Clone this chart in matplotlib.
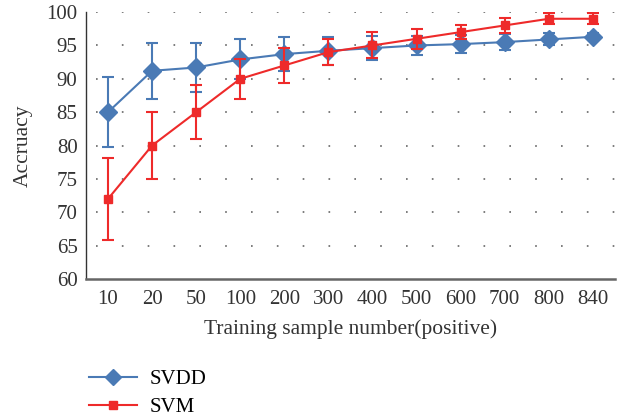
import matplotlib
matplotlib.use("Agg")
import matplotlib.pyplot as plt
from matplotlib.lines import Line2D
import numpy as np

# ---------------------------------------------------------
# Data
# ---------------------------------------------------------
sample_labels = ["10", "20", "50", "100", "200", "300", "400", "500", "600", "700", "800", "840"]

svdd_acc = [85.0, 91.2, 91.7, 92.9, 93.7, 94.2, 94.6, 95.0, 95.2, 95.5, 95.9, 96.3]
svdd_err = [5.2, 4.2, 3.7, 3.0, 2.6, 2.1, 1.8, 1.4, 1.3, 1.2, 0.9, 0.5]

svm_acc = [72.0, 80.0, 85.0, 90.0, 92.0, 94.0, 95.0, 96.0, 97.0, 98.0, 99.0, 99.0]
svm_err = [6.2, 5.0, 4.0, 3.0, 2.6, 2.0, 1.95, 1.5, 1.1, 1.1, 0.85, 0.8]

y_ticks = [60, 65, 70, 75, 80, 85, 90, 95, 100]

blue = "#4A7AB5"
red = "#EE2A2A"
text_col = "#333333"

plt.rcParams["font.family"] = ["Liberation Serif", "DejaVu Serif"]

fig = plt.figure(figsize=(6.32, 4.17), dpi=100)
ax = fig.add_axes([0.136, 0.331, 0.837, 0.640])

x = np.arange(len(sample_labels))

# dotted horizontal grid
for yv in y_ticks[1:]:
    ax.axhline(yv, color="#666666", lw=1.2, linestyle=(-6, (1, 14.5)), zorder=0)

ax.errorbar(x, svdd_acc, yerr=svdd_err, color=blue, lw=1.5, marker="D", ms=9,
            capsize=4, elinewidth=1.5, capthick=1.5, zorder=3)
ax.errorbar(x, svm_acc, yerr=svm_err, color=red, lw=1.5, marker="s", ms=6,
            capsize=4, elinewidth=1.5, capthick=1.5, zorder=4)

ax.set_xlim(-0.5, len(sample_labels) - 0.5)
ax.set_ylim(60, 100)
ax.set_xticks(x)
ax.set_xticklabels(sample_labels, fontsize=15, color=text_col)
ax.set_yticks(y_ticks)
ax.set_yticklabels([str(v) for v in y_ticks], fontsize=15, color=text_col)
ax.tick_params(axis="x", length=0, pad=8)
ax.tick_params(axis="y", length=0, pad=6)

for side in ["top", "right"]:
    ax.spines[side].set_visible(False)
ax.spines["left"].set_color(text_col)
ax.spines["left"].set_linewidth(1.0)
ax.spines["bottom"].set_color("#666666")
ax.spines["bottom"].set_linewidth(1.8)

ax.set_xlabel("Training sample number(positive)", fontsize=15.5, color=text_col, labelpad=7)
ax.set_ylabel("Accruacy", fontsize=15.5, color=text_col, labelpad=10)

handles = [
    Line2D([], [], color=blue, lw=1.5, marker="D", ms=8),
    Line2D([], [], color=red, lw=1.5, marker="s", ms=5.5),
]
fig.legend(handles, ["SVDD", "SVM"], loc="upper left", bbox_to_anchor=(0.124, 0.138),
           frameon=False, fontsize=15, handlelength=2.3, labelspacing=0.4,
           handletextpad=0.6, borderpad=0)

fig.savefig("out.png", dpi=100)
